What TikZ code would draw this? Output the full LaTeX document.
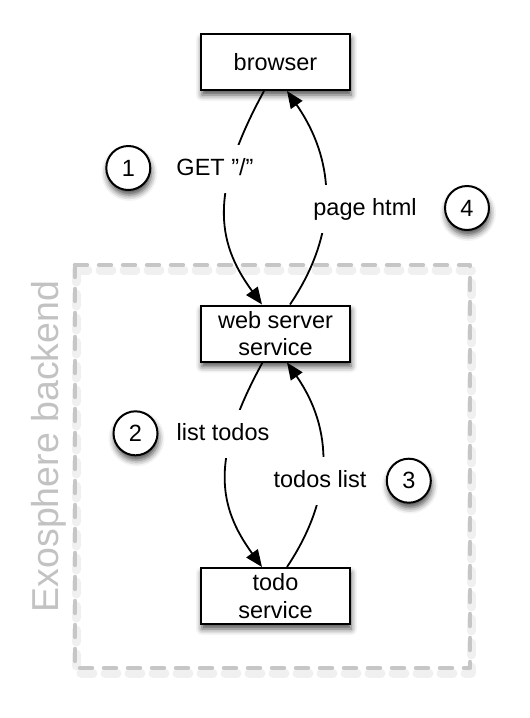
\documentclass[tikz,border=0pt]{standalone}
\usepackage{fontspec}
\setmainfont{Liberation Sans}
\usetikzlibrary{arrows.meta,shadows.blur}
\definecolor{dashgray}{HTML}{C6C6C6}
\definecolor{labelgray}{HTML}{C2C2C2}
\begin{document}
\begin{tikzpicture}[x=1pt,y=-1pt,
  every node/.style={font=\fontsize{23.5}{27.7}\selectfont},
  softshadow/.style={blur shadow={shadow xshift=1pt, shadow yshift=-5pt, shadow blur radius=6pt, shadow opacity=70}},
  svc/.style={draw, line width=2pt, fill=white, minimum width=149pt, minimum height=56pt, inner sep=0pt, align=center, softshadow},
  num/.style={circle, draw, line width=2pt, fill=white, minimum size=44pt, inner sep=0pt, softshadow},
  lbl/.style={fill=white, text height=17pt, text depth=5pt, inner xsep=3pt, inner ysep=13pt},
  conn/.style={line width=1.8pt, -{Triangle[length=17pt,width=14pt]}},
  backend/.style={dashgray, line width=4.5pt, dash pattern=on 12pt off 12pt, line cap=round, line join=round},
]
\useasboundingbox (0,0) rectangle (530,718);
% backend frame with faint shadow
\draw[backend, black, opacity=0.06, line width=9pt] (76,270) rectangle (471,673);
\draw[backend] (75,265) rectangle (470,668);
\node[anchor=base, rotate=90, text=labelgray, font=\fontsize{37.5}{40}\selectfont] (exo) at (58.3,446.5) {Exosphere backend};

% services
\node[svc] (browser) at (275.5,62) {browser};
\node[svc] (web) at (275.5,333.5) {web server\\service};
\node[svc] (todo) at (275.5,596) {todo\\service};

% connectors
\draw[conn] ([xshift=-11.5pt]browser.south) .. controls +(-54,99) and +(-47,-64) .. ([xshift=-13.5pt]web.north);
\draw[conn] ([xshift=14.5pt]web.north) .. controls +(50,-74) and +(48,69) .. ([xshift=11.5pt]browser.south);
\draw[conn] ([xshift=-13pt]web.south) .. controls +(-52,95) and +(-45,-62) .. ([xshift=-13.5pt]todo.north);
\draw[conn] ([xshift=11.5pt]todo.north) .. controls +(48,-72) and +(46,66) .. ([xshift=11.5pt]web.south);

% connector labels
\node[lbl] (l1) at (215,169) {GET \symbol{34}/\symbol{34}};
\node[lbl] (l4) at (365,209) {page html};
\node[lbl] (l2) at (223,434) {list todos};
\node[lbl] (l3) at (320,481) {todos list};

% step numbers
\node[num] (n1) at (128.3,168) {1};
\node[num] (n4) at (467,208) {4};
\node[num] (n2) at (135.5,433.3) {2};
\node[num] (n3) at (408.8,480.7) {3};
\end{tikzpicture}
\end{document}
